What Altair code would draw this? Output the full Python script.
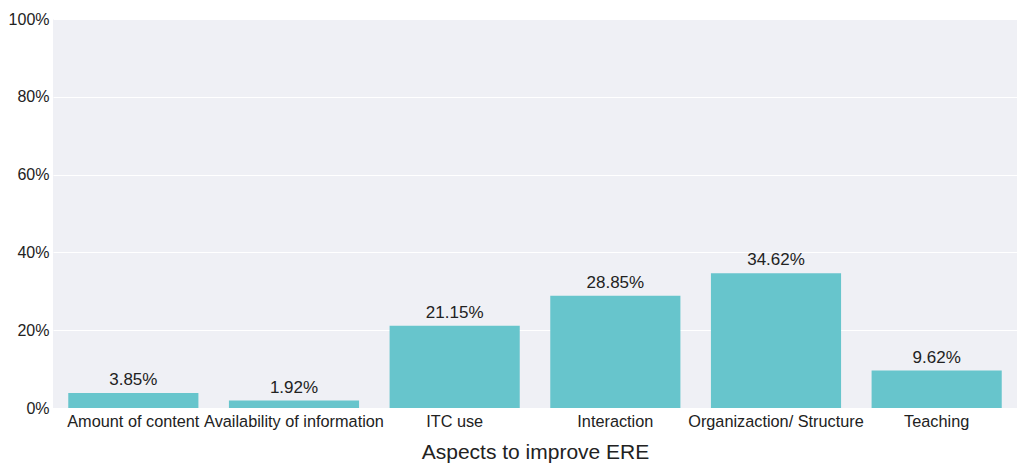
import altair as alt
import pandas as pd

categories = ["Amount of content", "Availability of information", "ITC use",
              "Interaction", "Organizaction/ Structure", "Teaching"]
values = [3.85, 1.92, 21.15, 28.85, 34.62, 9.62]
labels = ["3.85%", "1.92%", "21.15%", "28.85%", "34.62%", "9.62%"]

df = pd.DataFrame({"cat": categories, "val": [v / 100 for v in values], "lab": labels})

FONT = "Liberation Sans"

base = alt.Chart(df).encode(
    x=alt.X("cat:N", sort=categories, title="Aspects to improve ERE",
            scale=alt.Scale(paddingInner=0.19, paddingOuter=0.095),
            axis=alt.Axis(labelAngle=0, labelFontSize=16.3, labelColor="#222",
                          titleFontSize=21, titleFontWeight="normal", titleColor="#222",
                          labelFont=FONT, titleFont=FONT, ticks=False, domain=False,
                          labelPadding=5, titlePadding=12, grid=False,
                          labelLimit=0, labelOverlap=False)),
    y=alt.Y("val:Q", title=None,
            scale=alt.Scale(domain=[0, 1]),
            axis=alt.Axis(format=".0%", values=[0, 0.2, 0.4, 0.6, 0.8, 1.0],
                          labelFontSize=16, labelColor="#222", labelFont=FONT,
                          ticks=False, domain=False, labelPadding=4,
                          gridColor="white", gridWidth=1)),
)

bars = base.mark_bar(color="#67c5cc")
text = base.mark_text(dy=-13, fontSize=17, font=FONT, color="#222").encode(text="lab:N")

chart = (bars + text).properties(
    width=1009, height=455,
    autosize=alt.AutoSizeParams(type="fit", contains="padding"),
    padding={"left": 0, "top": 3, "right": 0, "bottom": 0},
).configure_view(fill="#eff0f5", stroke=None)

chart.save("out.html", embed_options={"renderer": "svg", "actions": False})
